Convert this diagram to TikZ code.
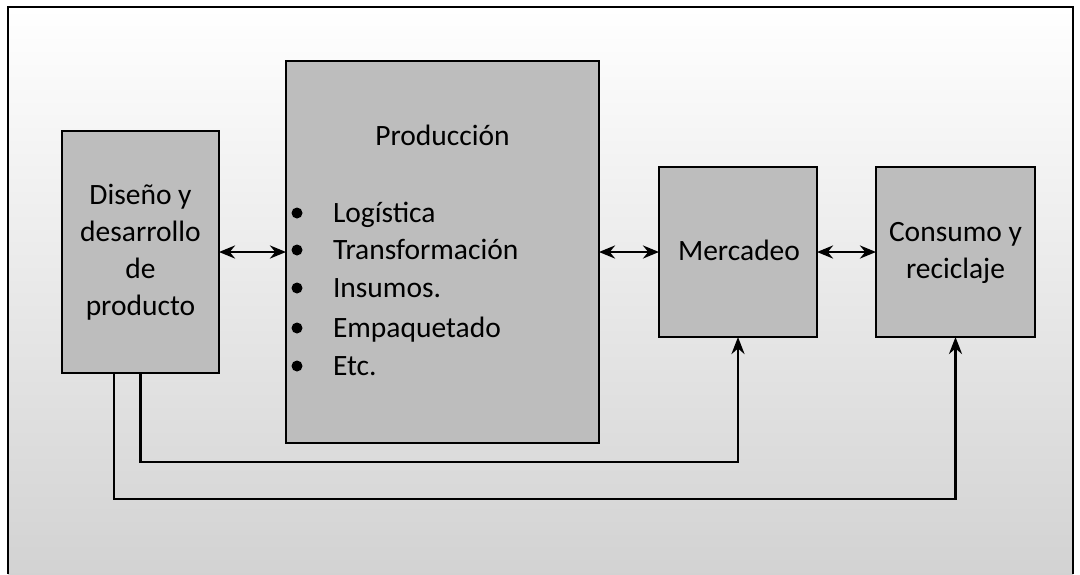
\documentclass[tikz,border=0pt]{standalone}
\usepackage{fontspec}
\setmainfont{Carlito}
\usetikzlibrary{arrows.meta}
\begin{document}
\begin{tikzpicture}[x=1pt,y=-1pt,
  every node/.style={font=\fontsize{29.5}{37}\selectfont, inner sep=0pt, outer sep=0pt},
  blk/.style={draw=black, line width=2.4pt, fill=gray!52},
  link/.style={line width=2.8pt, {Stealth[length=16pt,width=13pt]}-{Stealth[length=16pt,width=13pt]}},
  feed/.style={line width=2.8pt, -{Stealth[length=17pt,width=13pt]}},
  lbl/.style={align=center},
  bul/.style={circle, fill=black, minimum size=11pt}]
\useasboundingbox (0,0) rectangle (1080,574);
\shade[top color=white, bottom color=gray!35] (8,7) rectangle (1073,574);
\draw[line width=2.6pt] (8,574) -- (8,7) -- (1073,7) -- (1073,574);
% boxes
\node[blk, minimum width=157pt, minimum height=242pt] (dis) at (140.5,252) {};
\node[blk, minimum width=313pt, minimum height=382pt] (pro) at (442.5,252) {};
\node[blk, minimum width=158pt, minimum height=170pt] (mer) at (738,252) {};
\node[blk, minimum width=159pt, minimum height=170pt] (con) at (955.5,252) {};
% texts
\node[lbl, anchor=base] (t1) at (140.5,315) {Diseño y\\desarrollo\\de\\producto};
\node[anchor=base] (t2) at (442.5,145) {Producción};
\node[anchor=base] (t3) at (739,260) {Mercadeo};
\node[lbl, anchor=base] (t4) at (955.5,278) {Consumo y\\reciclaje};
\foreach \y/\t [count=\i] in {222/Logística,259/Transformación,297/Insumos.,337/Empaquetado,375/Etc.}{
  \node[bul] (b\i) at (297,\y-9) {};
  \node[anchor=base west] (l\i) at (333,\y) {\t};
}
% connectors
\draw[link] (dis.east) -- (pro.west);
\draw[link] (pro.east) -- (mer.west);
\draw[link] (mer.east) -- (con.west);
\coordinate (s1) at ([xshift=-26.5pt]dis.south);
\coordinate (k1) at (140.5,462);
\coordinate (k2) at (114,499);
\draw[feed] (dis.south) -- (k1) -| (mer.south);
\draw[feed] (s1) -- (k2) -| (con.south);
\end{tikzpicture}
\end{document}
